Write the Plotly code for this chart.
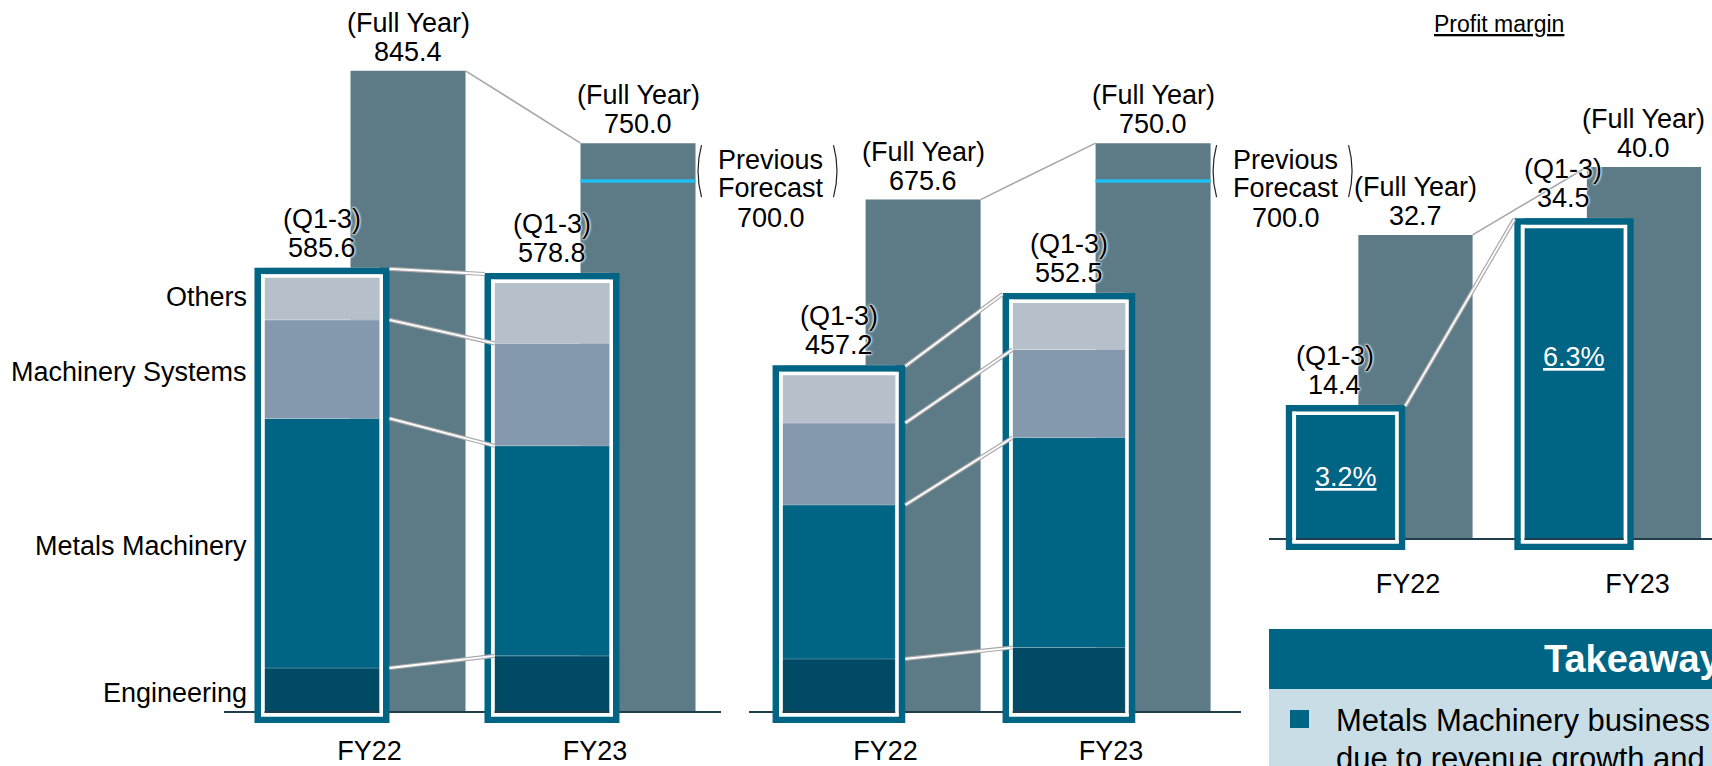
import numpy as np
import plotly.graph_objects as go

W, H = 1712, 766
FONT = "Liberation Sans, Arial, sans-serif"

# ---------------- data ----------------
years = ["FY22", "FY23"]
segments = ["Engineering", "Metals Machinery", "Machinery Systems", "Others"]

# Panel 1 : Orders received (Q1-3 by segment, full year)
orders_eng = [58.0, 74.0]
orders_metals = [329.0, 277.0]
orders_ms = [130.0, 135.0]
orders_others = [68.6, 92.8]
orders_q13_total = [585.6, 578.8]
orders_full = [845.4, 750.0]
orders_prev_forecast = 700.0

# Panel 2 : Revenue (Q1-3 by segment, full year)
revenue_eng = [70.0, 85.0]
revenue_metals = [203.0, 277.0]
revenue_ms = [108.0, 116.0]
revenue_others = [76.2, 74.5]
revenue_q13_total = [457.2, 552.5]
revenue_full = [675.6, 750.0]
revenue_prev_forecast = 700.0

# Panel 3 : Operating profit
profit_q13 = [14.4, 34.5]
profit_full = [32.7, 40.0]
profit_margin = ["3.2%", "6.3%"]

# ---------------- style ----------------
SEG_COLORS = ["#004a66", "#006485", "#8499ad", "#b5c0ca"]
FULL_COLOR = "#5d7b87"
TEAL = "#006485"
CYAN = "#1fbff0"
GRAY = "#a6a6a6"
BASE_COLOR = "#1f3d4d"

# panel geometry (pixels)
P = [
    dict(ax="", g0=365.0, unit=230.0, dom=(224, 721), base=712.0, ppu=0.7585, ybot=726.0,
         off=0.187, wf=0.5, wq=0.5, ticks=[0.02, 1.0], stand=6),
    dict(ax="2", g0=881.0, unit=230.0, dom=(749, 1241), base=712.0, ppu=0.7585, ybot=726.0,
         off=0.183, wf=0.5, wq=0.49, ticks=[0.02, 1.0], stand=6),
    dict(ax="3", g0=1380.5, unit=228.5, dom=(1269, 1712), base=539.0, ppu=9.3, ybot=553.0,
         off=0.153, wf=0.5, wq=0.435, ticks=[0.12, 1.125], stand=12),
]

def dx(p, px):
    return px / p["unit"]

def dy(p, px):
    return px / p["ppu"]

def xpx(p, xd):
    return p["g0"] + xd * p["unit"]

def ypx(p, yd):
    return p["base"] - yd * p["ppu"]

def PX(px):
    return px / W

def PY(py):
    return 1 - py / H

panel_data = [
    dict(segs=[orders_eng, orders_metals, orders_ms, orders_others], colors=SEG_COLORS,
         total=orders_q13_total, full=orders_full, prev=orders_prev_forecast),
    dict(segs=[revenue_eng, revenue_metals, revenue_ms, revenue_others], colors=SEG_COLORS,
         total=revenue_q13_total, full=revenue_full, prev=revenue_prev_forecast),
    dict(segs=[profit_q13], colors=[TEAL], total=profit_q13, full=profit_full, prev=None),
]

fig = go.Figure()
shapes = []
annotations = []

def ann(text, x, y, xref, yref, size=27, xanchor="center", yanchor="middle",
        xshift=0, yshift=0, color="black", weight="normal", shadow=None, under=False):
    f = dict(family=FONT, size=size, color=color, weight=weight)
    if shadow:
        f["shadow"] = shadow
    if under:
        f["lineposition"] = "under"
    annotations.append(dict(text=text, x=x, y=y, xref=xref, yref=yref, showarrow=False,
                            xanchor=xanchor, yanchor=yanchor, xshift=xshift, yshift=yshift,
                            font=f))

HALO = "0px 0px 3px white, 0px 0px 3px white, 0px 0px 2px white"

for p, d in zip(P, panel_data):
    xa, ya = "x" + p["ax"], "y" + p["ax"]
    n = len(years)
    # baseline
    shapes.append(dict(type="line", xref=xa + " domain", yref=ya, x0=0, x1=1, y0=0, y1=0,
                       line=dict(color=BASE_COLOR, width=2), layer="above"))
    # full-year bars
    fig.add_trace(go.Bar(x=[i + p["off"] for i in range(n)], y=d["full"], width=p["wf"],
                         marker=dict(color=FULL_COLOR, line=dict(width=0)),
                         xaxis=xa, yaxis=ya, showlegend=False, hoverinfo="skip"))
    # Q1-3 stacked bars
    base = np.zeros(n)
    for vals, col in zip(d["segs"], d["colors"]):
        fig.add_trace(go.Bar(x=[i - p["off"] for i in range(n)], y=vals, base=base.copy(),
                             width=p["wq"],
                             marker=dict(color=col, line=dict(color="rgba(255,255,255,0.35)", width=0.6)),
                             xaxis=xa, yaxis=ya, showlegend=False, hoverinfo="skip"))
        base = base + np.array(vals)
    tops = base
    # boxes around Q1-3 bars (outer top edge sits at the bar value)
    for i in range(n):
        c = i - p["off"]
        half = p["wq"] / 2
        for pad, lw, col, tpad in [(6.75, 6.5, TEAL, -3.25), (1.75, 3.5, "white", -8.25)]:
            shapes.append(dict(type="rect", xref=xa, yref=ya,
                               x0=c - half - dx(p, pad), x1=c + half + dx(p, pad),
                               y0=-dy(p, pad + 1), y1=tops[i] + dy(p, tpad),
                               line=dict(color=col, width=lw), fillcolor="rgba(0,0,0,0)",
                               layer="above"))
    # previous forecast line
    if d["prev"] is not None:
        shapes.append(dict(type="line", xref=xa, yref=ya,
                           x0=1 + p["off"] - p["wf"] / 2, x1=1 + p["off"] + p["wf"] / 2,
                           y0=d["prev"], y1=d["prev"], line=dict(color=CYAN, width=3.5),
                           layer="above"))
    # connector between full-year bars
    shapes.append(dict(type="line", xref=xa, yref=ya,
                       x0=0 + p["off"] + p["wf"] / 2, y0=d["full"][0],
                       x1=1 + p["off"] - p["wf"] / 2, y1=d["full"][1],
                       line=dict(color=GRAY, width=1.5), layer="above"))
    # connectors between stacked segments
    cum = np.cumsum(np.array(d["segs"]), axis=0)
    for j in range(cum.shape[0]):
        last = j == cum.shape[0] - 1
        x0 = 0 - p["off"] + p["wq"] / 2 + dx(p, 10)
        x1 = 1 - p["off"] - p["wq"] / 2 - (dx(p, 10) if last else 0)
        y0 = cum[j][0] - (dy(p, 1) if last else 0)
        y1 = cum[j][1] - (dy(p, 1) if last else 0)
        for lw, col in [(4.2, "#a9a9a9"), (1.8, "white")]:
            shapes.append(dict(type="line", xref=xa, yref=ya, x0=x0, y0=y0, x1=x1, y1=y1,
                               line=dict(color=col, width=lw), layer="above"))
    # value labels
    qshift = -11 if p["ax"] == "3" else 0
    for i in range(n):
        ann("(Full Year)", i + p["off"], d["full"][i], xa, ya, yshift=48)
        ann(f"{d['full'][i]:.1f}", i + p["off"], d["full"][i], xa, ya, yshift=19)
        ann("(Q1-3)", i - p["off"], d["total"][i], xa, ya, yshift=49, xshift=qshift, shadow=HALO)
        ann(f"{d['total'][i]:.1f}", i - p["off"], d["total"][i], xa, ya, yshift=20, xshift=qshift,
            shadow=HALO)
    # previous forecast annotation
    if d["prev"] is not None:
        xr = 1 + p["off"] + p["wf"] / 2
        ann("Previous", xr, d["prev"], xa, ya, xshift=75, yshift=21.5)
        ann("Forecast", xr, d["prev"], xa, ya, xshift=75, yshift=-7)
        ann(f"{d['prev']:.1f}", xr, d["prev"], xa, ya, xshift=75, yshift=-37)
        R = xpx(p, xr)
        yc = ypx(p, d["prev"]) - 10
        for xa_, xb_ in [(R + 6, R - 1), (R + 138, R + 145)]:
            shapes.append(dict(type="path", xref="paper", yref="paper",
                               path=f"M {PX(xa_)},{PY(yc - 26)} Q {PX(xb_)},{PY(yc)} {PX(xa_)},{PY(yc + 26)}",
                               line=dict(color="#222222", width=1.2)))

# profit margin labels inside panel-3 boxes
p3 = P[2]
margin_shift = [-5, 22]
for i in range(len(years)):
    ann(profit_margin[i], i - p3["off"], profit_q13[i] / 2, "x3", "y3", color="white",
        under=True, yshift=margin_shift[i])

# segment labels on the left (at FY22 orders stack mid-points)
seg_vals1 = [orders_eng[0], orders_metals[0], orders_ms[0], orders_others[0]]
cum1 = np.cumsum(seg_vals1)
for name, top, v in zip(segments, cum1, seg_vals1):
    ann(name, PX(249), top - v / 2, "paper", "y", xanchor="right", yshift=-3)

# "Profit margin" heading
ann("Profit margin", PX(1499), PY(24), "paper", "paper", size=23, under=True)

# Takeaway box
shapes.append(dict(type="rect", xref="paper", yref="paper", x0=PX(1269), x1=PX(1712),
                   y0=PY(689), y1=PY(629), fillcolor=TEAL, line=dict(width=0), layer="above"))
shapes.append(dict(type="rect", xref="paper", yref="paper", x0=PX(1269), x1=PX(1712),
                   y0=PY(766), y1=PY(689), fillcolor="#c8dde6", line=dict(width=0), layer="above"))
shapes.append(dict(type="rect", xref="paper", yref="paper", x0=PX(1290), x1=PX(1309),
                   y0=PY(728), y1=PY(710), fillcolor=TEAL, line=dict(width=0), layer="above"))
ann("Takeaway", PX(1542), PY(659), "paper", "paper", size=38, xanchor="left", color="white",
    weight="bold")
ann("Metals Machinery business", PX(1334), PY(720), "paper", "paper", size=31, xanchor="left")
ann("due to revenue growth and", PX(1334), PY(758), "paper", "paper", size=31, xanchor="left")

# axes
layout = dict(width=W, height=H, margin=dict(l=0, r=0, t=0, b=0), template="none",
              barmode="overlay", plot_bgcolor="white", paper_bgcolor="white",
              showlegend=False, shapes=shapes, annotations=annotations,
              font=dict(family=FONT, color="black"))
for p in P:
    xk, yk = "xaxis" + p["ax"], "yaxis" + p["ax"]
    layout[xk] = dict(domain=[PX(p["dom"][0]), PX(p["dom"][1])],
                      range=[(p["dom"][0] - p["g0"]) / p["unit"], (p["dom"][1] - p["g0"]) / p["unit"]],
                      anchor="y" + p["ax"], tickvals=p["ticks"], ticktext=years,
                      tickfont=dict(family=FONT, size=27, color="black"), ticks="",
                      showgrid=False, zeroline=False, showline=False, fixedrange=True,
                      automargin=False, ticklabelstandoff=p["stand"])
    layout[yk] = dict(domain=[PY(p["ybot"]), 1],
                      range=[-(p["ybot"] - p["base"]) / p["ppu"], p["base"] / p["ppu"]],
                      anchor="x" + p["ax"], visible=False, fixedrange=True, automargin=False)

fig.update_layout(**layout)
fig.write_html("out.html")
